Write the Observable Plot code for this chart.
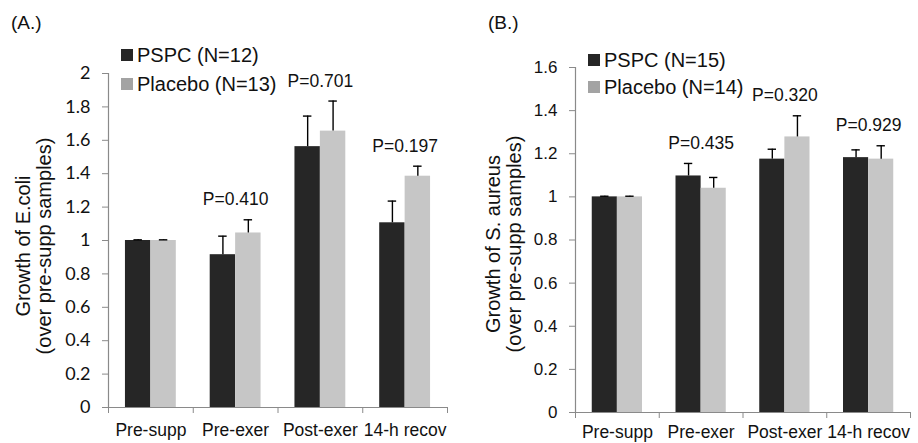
<!DOCTYPE html>
<html>
<head>
<meta charset="utf-8">
<script src="https://cdn.jsdelivr.net/npm/d3@7"></script>
<script src="https://cdn.jsdelivr.net/npm/@observablehq/plot@0.6"></script>
<style>
  html, body { margin: 0; padding: 0; background: #fff; }
  #root { display: flex; width: 918px; height: 443px; }
  .panel { position: relative; width: 459px; height: 443px; }
  .panel svg { position: absolute; left: 0; top: 0; }
  .ttl { position: absolute; font-family: "Liberation Sans", Arial, sans-serif; font-size: 19px; color: #111; line-height: 1; }
  .leg { position: absolute; font-family: "Liberation Sans", Arial, sans-serif; font-size: 20px; color: #111; line-height: 1; display: flex; align-items: center; white-space: nowrap; }
  .sw { display: inline-block; width: 12px; height: 12px; margin-right: 4px; }
  .ytitle { position: absolute; font-family: "Liberation Sans", Arial, sans-serif; font-size: 20px; color: #111; line-height: 21px; text-align: center; white-space: nowrap; transform: translate(-50%, -50%) rotate(-90deg); }
</style>
</head>
<body>
<div id="root"></div>
<script>
// ---- data ----
const categories = ["Pre-supp", "Pre-exer", "Post-exer", "14-h recov"];

const ecoliGroups = ["PSPC (N=12)", "Placebo (N=13)"];
const ecoliPSPC = [1.0, 0.915, 1.562, 1.106];
const ecoliPSPCErr = [0.004, 0.111, 0.183, 0.130];
const ecoliPlacebo = [1.0, 1.045, 1.655, 1.385];
const ecoliPlaceboErr = [0.004, 0.079, 0.180, 0.060];
const ecoliP = ["", "P=0.410", "P=0.701", "P=0.197"];
const ecoliYTicks = [0, 0.2, 0.4, 0.6, 0.8, 1, 1.2, 1.4, 1.6, 1.8, 2];

const aureusGroups = ["PSPC (N=15)", "Placebo (N=14)"];
const aureusPSPC = [1.0, 1.097, 1.175, 1.182];
const aureusPSPCErr = [0.003, 0.058, 0.046, 0.036];
const aureusPlacebo = [1.0, 1.040, 1.278, 1.175];
const aureusPlaceboErr = [0.003, 0.050, 0.098, 0.062];
const aureusP = ["", "P=0.435", "P=0.320", "P=0.929"];
const aureusYTicks = [0, 0.2, 0.4, 0.6, 0.8, 1, 1.2, 1.4, 1.6];

// ---- styles ----
const DARK = "#262626";
const LIGHT = "#c6c6c6";
const SWATCH_LIGHT = "#a3a3a3";
const AXIS = "#8a8a8a";
const ARIAL = "Liberation Sans, Arial, sans-serif";

function panel(cfg) {
  const {groups, pspc, pspcErr, plac, placErr, pLabels, yTicks, yMax,
         marginLeft, marginRight, marginTop, marginBottom, tickFont, tickFontSize, xPad,
         title, titleX, legX, legY, legGap, yTitle, yTitleX, yTitleY} = cfg;
  const W = 459, H = 443, bw = 0.3, cap = 0.05;
  const rows = [];
  categories.forEach((c, i) => {
    rows.push({cat: c, i, group: groups[0], value: pspc[i], err: pspcErr[i], x1: i + 0.5 - bw, x2: i + 0.5});
    rows.push({cat: c, i, group: groups[1], value: plac[i], err: placErr[i], x1: i + 0.5, x2: i + 0.5 + bw});
  });
  rows.forEach(r => { r.xc = (r.x1 + r.x2) / 2; r.top = r.value + r.err; });
  const pRows = categories.map((c, i) => ({
    x: i + 0.5,
    y: d3.max(rows.filter(r => r.i === i), r => r.top),
    text: pLabels[i]
  })).filter(d => d.text);

  const svg = Plot.plot({
    width: W, height: H,
    marginLeft, marginRight, marginTop, marginBottom,
    x: {type: "linear", domain: [0, categories.length]},
    y: {domain: [0, yMax]},
    color: {domain: groups, range: [DARK, LIGHT]},
    style: {background: "transparent", color: "#111"},
    marks: [
      Plot.rect(rows, {x1: "x1", x2: "x2", y1: 0, y2: "value", fill: "group"}),
      Plot.ruleX(rows, {x: "xc", y1: "value", y2: "top", stroke: "#000", strokeWidth: 1.4}),
      Plot.ruleY(rows, {y: "top", x1: d => d.xc - cap, x2: d => d.xc + cap, stroke: "#000", strokeWidth: 1.4}),
      Plot.ruleX([0], {stroke: AXIS, strokeWidth: 1.2}),
      Plot.ruleY([0], {stroke: AXIS, strokeWidth: 1.2}),
      Plot.axisY({ticks: yTicks, tickFormat: d => String(+d.toFixed(1)), tickSize: 6, tickPadding: 12,
                  stroke: AXIS, fill: "#111", fontSize: tickFontSize, fontFamily: tickFont, label: null}),
      Plot.axisX({ticks: d3.range(categories.length + 1), tickFormat: () => "", tickSize: 6,
                  stroke: AXIS, label: null}),
      Plot.axisX({ticks: categories.map((c, i) => i + 0.5), tickFormat: d => categories[Math.round(d - 0.5)],
                  tickSize: 0, tickPadding: xPad, fill: "#111", fontSize: 17.5, fontFamily: ARIAL, label: null}),
      Plot.text(pRows, {x: "x", y: "y", text: "text", dy: -20, fontSize: 17.5, fontFamily: ARIAL, fill: "#111"})
    ]
  });
  svg.style.fontFamily = ARIAL;

  const div = document.createElement("div");
  div.className = "panel";
  div.appendChild(svg);

  const t = document.createElement("div");
  t.className = "ttl";
  t.textContent = title;
  t.style.left = titleX + "px";
  t.style.top = "13px";
  div.appendChild(t);

  groups.forEach((g, k) => {
    const l = document.createElement("div");
    l.className = "leg";
    l.style.left = legX + "px";
    l.style.top = (legY + k * legGap - 10) + "px";
    l.style.height = "20px";
    const s = document.createElement("span");
    s.className = "sw";
    s.style.background = k === 0 ? DARK : SWATCH_LIGHT;
    l.appendChild(s);
    l.appendChild(document.createTextNode(g));
    div.appendChild(l);
  });

  const yt = document.createElement("div");
  yt.className = "ytitle";
  yTitle.forEach(line => {
    const ln = document.createElement("div");
    ln.textContent = line;
    yt.appendChild(ln);
  });
  yt.style.left = yTitleX + "px";
  yt.style.top = yTitleY + "px";
  div.appendChild(yt);
  return div;
}

const root = document.getElementById("root");
root.appendChild(panel({
  groups: ecoliGroups, pspc: ecoliPSPC, pspcErr: ecoliPSPCErr, plac: ecoliPlacebo, placErr: ecoliPlaceboErr,
  pLabels: ecoliP, yTicks: ecoliYTicks, yMax: 2,
  marginLeft: 108, marginRight: 12, marginTop: 73, marginBottom: 36,
  tickFont: "Lato, Carlito, sans-serif", tickFontSize: 18, xPad: 16,
  title: "(A.)", titleX: 11, legX: 121, legY: 55, legGap: 29,
  yTitle: ["Growth of E.coli", "(over pre-supp samples)"], yTitleX: 34, yTitleY: 246
}));
root.appendChild(panel({
  groups: aureusGroups, pspc: aureusPSPC, pspcErr: aureusPSPCErr, plac: aureusPlacebo, placErr: aureusPlaceboErr,
  pLabels: aureusP, yTicks: aureusYTicks, yMax: 1.6,
  marginLeft: 116, marginRight: 8, marginTop: 67, marginBottom: 31,
  tickFont: ARIAL, tickFontSize: 17, xPad: 13,
  title: "(B.)", titleX: 29, legX: 129, legY: 60, legGap: 27,
  yTitle: ["Growth of S. aureus", "(over pre-supp samples)"], yTitleX: 45, yTitleY: 244
}));
</script>
</body>
</html>
